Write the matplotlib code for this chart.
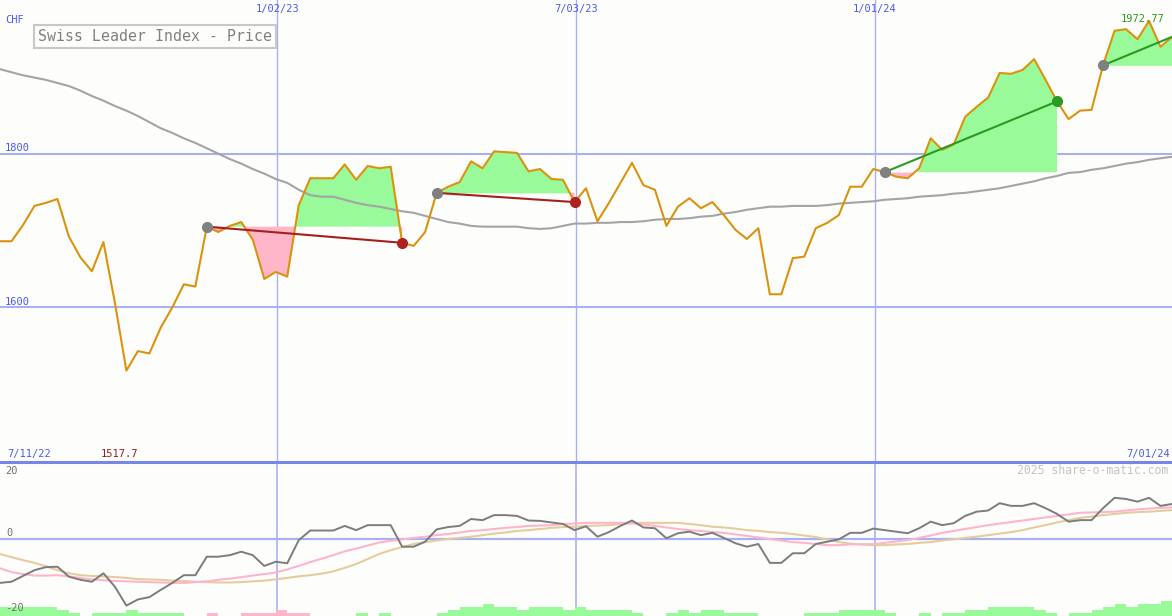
import numpy as np
import matplotlib
matplotlib.use("Agg")
import matplotlib.pyplot as plt
from matplotlib.lines import Line2D

plt.rcParams["font.family"] = ["DejaVu Sans Mono"]

# weekly closes, Swiss Leader Index (CHF)
price = [
    1686, 1686, 1707, 1732, 1736, 1741, 1692, 1665, 1647, 1685,
    1606, 1517.7, 1543, 1540, 1574, 1600, 1630, 1627, 1705, 1698,
    1706, 1711, 1688, 1637, 1646, 1640, 1733, 1768, 1768, 1768,
    1786, 1766, 1784, 1781, 1783, 1684, 1680, 1698, 1749, 1757,
    1763, 1790, 1781, 1803, 1802, 1801, 1777, 1780, 1767, 1766,
    1737, 1755, 1712, 1736, 1762, 1788, 1759, 1753, 1706, 1731,
    1742, 1729, 1737, 1720, 1701, 1689, 1703, 1617, 1617, 1664,
    1666, 1703, 1710, 1720, 1757, 1757, 1780, 1776, 1770, 1768,
    1781, 1820, 1805, 1812, 1848, 1861, 1873, 1905, 1904, 1909,
    1923, 1896, 1868, 1845, 1856, 1857, 1915, 1960, 1962, 1949,
    1972.77, 1939, 1952,
]
# long moving average (grey)
ma = [
    1910, 1906, 1902, 1899, 1896, 1892, 1888, 1882, 1875, 1869,
    1862, 1856, 1849, 1841, 1833, 1827, 1820, 1814, 1807, 1800,
    1793, 1787, 1780, 1774, 1767, 1762, 1753, 1746, 1744, 1744,
    1740, 1736, 1733, 1731, 1728, 1725, 1723, 1719, 1715, 1711,
    1709, 1706, 1705, 1705, 1705, 1705, 1703, 1702, 1703, 1706,
    1709, 1709, 1710, 1710, 1711, 1711, 1712, 1714, 1715, 1715,
    1716, 1718, 1719, 1722, 1724, 1727, 1729, 1731, 1731, 1732,
    1732, 1732, 1733, 1735, 1736, 1737, 1738, 1740, 1741, 1742,
    1744, 1745, 1746, 1748, 1749, 1751, 1753, 1755, 1758, 1761,
    1764, 1768, 1771, 1775, 1776, 1779, 1781, 1784, 1787, 1789,
    1792, 1794, 1796,
]
# lower panel: oscillator and its two averages
osc = [
    -11.4, -11.1, -9.6, -8.1, -7.3, -7.2, -9.8, -10.6, -11.1, -8.9,
    -12.4, -17.3, -15.7, -15.1, -13.2, -11.4, -9.4, -9.4, -4.6, -4.6,
    -4.2, -3.3, -4.2, -7.0, -5.9, -6.3, -0.3, 2.2, 2.2, 2.2,
    3.4, 2.3, 3.6, 3.6, 3.6, -2.0, -2.0, -0.7, 2.5, 3.1,
    3.4, 5.2, 4.9, 6.2, 6.2, 6.0, 4.8, 4.7, 4.3, 3.9,
    2.3, 3.3, 0.6, 1.8, 3.4, 4.8, 3.0, 2.8, 0.2, 1.5,
    1.9, 1.0, 1.6, 0.3, -1.1, -2.0, -1.3, -6.2, -6.2, -3.7,
    -3.7, -1.3, -0.7, -0.1, 1.6, 1.6, 2.7, 2.3, 1.9, 1.5,
    2.8, 4.5, 3.6, 4.1, 6.0, 7.1, 7.4, 9.3, 8.6, 8.6,
    9.3, 8.0, 6.5, 4.5, 4.9, 4.9, 8.0, 10.7, 10.4, 9.7,
    10.7, 8.6, 9.1,
]
osc_fast = [
    -7.6, -8.6, -9.1, -9.5, -9.5, -9.4, -9.7, -10.1, -10.5, -10.7,
    -10.9, -11.0, -11.1, -11.2, -11.3, -11.4, -11.4, -11.2, -11.0, -10.6,
    -10.3, -9.9, -9.5, -9.1, -8.7, -7.9, -7.0, -6.0, -5.1, -4.2,
    -3.2, -2.5, -1.7, -0.9, -0.5, -0.1, 0.3, 0.6, 1.0, 1.3,
    1.7, 2.1, 2.3, 2.6, 2.9, 3.1, 3.4, 3.5, 3.6, 3.9,
    4.0, 4.2, 4.2, 4.2, 4.2, 4.1, 3.8, 3.4, 3.0, 2.6,
    2.3, 2.1, 1.8, 1.6, 1.2, 0.8, 0.4, 0.0, -0.4, -0.8,
    -1.0, -1.3, -1.6, -1.6, -1.4, -1.4, -1.3, -1.0, -0.6, -0.3,
    0.3, 0.9, 1.6, 2.1, 2.6, 3.1, 3.6, 4.0, 4.4, 4.8,
    5.2, 5.6, 6.0, 6.4, 6.8, 6.9, 7.0, 7.1, 7.4, 7.7,
    7.9, 8.1, 8.2,
]
osc_slow = [
    -3.9, -4.7, -5.5, -6.2, -7.1, -8.1, -8.9, -9.4, -9.6, -9.7,
    -9.9, -10.1, -10.4, -10.5, -10.6, -10.8, -10.9, -11.1, -11.2, -11.3,
    -11.3, -11.2, -11.0, -10.8, -10.5, -10.1, -9.7, -9.4, -9.0, -8.4,
    -7.5, -6.5, -5.2, -3.9, -2.9, -2.1, -1.3, -0.8, -0.4, 0.0,
    0.3, 0.6, 1.0, 1.4, 1.7, 2.1, 2.3, 2.6, 2.9, 3.1,
    3.2, 3.4, 3.5, 3.6, 3.9, 4.1, 4.2, 4.2, 4.2, 4.2,
    3.9, 3.6, 3.2, 3.0, 2.7, 2.3, 2.1, 1.8, 1.6, 1.3,
    0.9, 0.5, -0.1, -0.8, -1.2, -1.4, -1.6, -1.6, -1.4, -1.3,
    -1.0, -0.8, -0.4, -0.1, 0.3, 0.6, 1.0, 1.4, 1.8, 2.3,
    3.0, 3.6, 4.3, 4.9, 5.5, 5.8, 6.2, 6.5, 6.8, 7.0,
    7.1, 7.3, 7.5,
]
# weekly strength blocks (+ green, - pink)
strength = [
    3, 3, 3, 3, 3, 2, 1, 0, 1, 1,
    1, 2, 1, 1, 1, 1, 0, 0, -1, 0,
    0, -1, -1, -1, -2, -1, -1, 0, 0, 0,
    0, 1, 0, 1, 0, 0, 0, 0, 1, 2,
    3, 3, 4, 3, 3, 2, 3, 3, 3, 2,
    3, 2, 2, 2, 2, 1, 0, 0, 1, 2,
    1, 2, 2, 1, 1, 1, 0, 0, 0, 0,
    1, 1, 1, 2, 2, 2, 2, 1, 0, 0,
    1, 0, 1, 1, 2, 2, 3, 3, 3, 3,
    2, 1, 0, 1, 1, 2, 3, 4, 3, 4,
    4, 5,
]
# trades: entry week, exit week (last one still open)
trade_in = [18, 38, 77, 96]
trade_out = [35, 50, 92, 102]
trade_open = [False, False, False, True]

start = np.datetime64("2022-07-17")
date_labels = ["1/02/23", "7/03/23", "1/01/24"]
date_values = ["2023-01-02", "2023-07-03", "2024-01-01"]

W, H = 1172, 616
bg = "#fdfefc"
blue = "#4a5af0"
grid = "#a8b0f2"
green_fill = "#98fa98"
pink_fill = "#ffb6c8"

price = np.array(price)
k = np.arange(len(price))
date_pos = [(np.datetime64(d) - start) / np.timedelta64(7, "D") for d in date_values]

fig = plt.figure(figsize=(W / 100, H / 100), dpi=100, facecolor=bg)
ax = fig.add_axes([0, 155 / H, 1, 461 / H])
ax2 = fig.add_axes([0, 0, 1, 154 / H])
for a in (ax, ax2):
    a.set_facecolor(bg)
    a.set_xlim(0, len(price) - 1)
    a.axis("off")
ax.set_ylim(1400, 2000)
ax2.set_ylim(-20, 20)

# grid
for v in (1800, 1600):
    ax.axhline(v, color=grid, lw=1.5, zorder=1)
for p in date_pos:
    ax.axvline(p, color=grid, lw=1.0, zorder=1)
    ax2.axvline(p, color=grid, lw=1.2, zorder=1)
ax2.axhline(0, color=grid, lw=1.6, zorder=1)
fig.add_artist(Line2D([0, 1], [1 - 461.5 / H] * 2, color="#7886e6", lw=2.2))

# trade fills + lines
for e, x, op in zip(trade_in, trade_out, trade_open):
    xs = k[e:x + 1]
    ys = price[e:x + 1]
    lvl = price[e]
    ax.fill_between(xs, ys, lvl, where=ys >= lvl, interpolate=True,
                    color=green_fill, lw=0, zorder=2)
    ax.fill_between(xs, ys, lvl, where=ys <= lvl, interpolate=True,
                    color=pink_fill, lw=0, zorder=2)

ax.plot(k, ma, color="#a4a4a4", lw=1.5, zorder=3)
ax.plot(k, price, color="#dc920c", lw=1.5, zorder=4)

for e, x, op in zip(trade_in, trade_out, trade_open):
    win = price[x] > price[e]
    lc = "#2a9a22" if win else "#a81e1e"
    ax.plot([e, x], [price[e], price[x]], color=lc, lw=1.5, zorder=5)
    ax.plot(e, price[e], "o", ms=7, color="#808080", zorder=6)
    if not op:
        dc = "#2a9a22" if win else "#b02222"
        ax.plot(x, price[x], "o", ms=7, color=dc, zorder=6)

# lower panel
ax2.bar(np.arange(len(strength)), np.abs(strength) * 0.78, width=1.0,
        align="edge", bottom=-20,
        color=[green_fill if s > 0 else pink_fill for s in strength],
        lw=0, zorder=2)
ax2.plot(k, osc_slow, color="#e4cc9e", lw=1.5, zorder=3)
ax2.plot(k, osc_fast, color="#ffb4cc", lw=1.5, zorder=3)
ax2.plot(k, osc, color="#7c7c7c", lw=1.4, zorder=4)


def ftext(x, y, s, **kw):
    kw.setdefault("va", "center")
    kw.setdefault("fontsize", 7.5)
    fig.text(x / W, 1 - y / H, s, **kw)


ftext(5, 20, "CHF", color=blue)
ftext(5, 148, "1800", color=blue)
ftext(5, 302, "1600", color=blue)
for p, lbl in zip(date_pos, date_labels):
    ax.annotate(lbl, (p, 1), xycoords=("data", "axes fraction"),
                xytext=(0, -9), textcoords="offset pixels",
                ha="center", va="center", color=blue, fontsize=7.5)
ftext(7, 454, "7/11/22", color=blue)
ftext(1170, 454, "7/01/24", color=blue, ha="right")

imin = int(np.argmin(price))
imax = int(np.argmax(price))
ax.annotate(f"{price[imin]:g}", (imin - 0.6, 0), xycoords=("data", "axes fraction"),
            xytext=(0, 7), textcoords="offset pixels", ha="center", va="center",
            color="#a01818", fontsize=7.5)
ax.annotate(f"{price[imax]:g}", (imax - 0.6, price[imax]), xytext=(0, 2),
            textcoords="offset pixels", ha="center", va="center",
            color="#2a9a22", fontsize=7.5, zorder=7)

ftext(38, 36.5, "Swiss Leader Index - Price", color="#808080", fontsize=10.7,
      bbox=dict(boxstyle="square,pad=0.3", fc="none", ec="#c8c8c8", lw=1.5))

ftext(5, 470.5, "20", color="#707070")
ftext(6, 533, "0", color="#707070")
ftext(5, 608, "-20", color="#707070")
ftext(1168, 471, "2025 share-o-matic.com", color="#c4c4c4", fontsize=8.3, ha="right")

fig.savefig("out.png", dpi=100, facecolor=bg)
